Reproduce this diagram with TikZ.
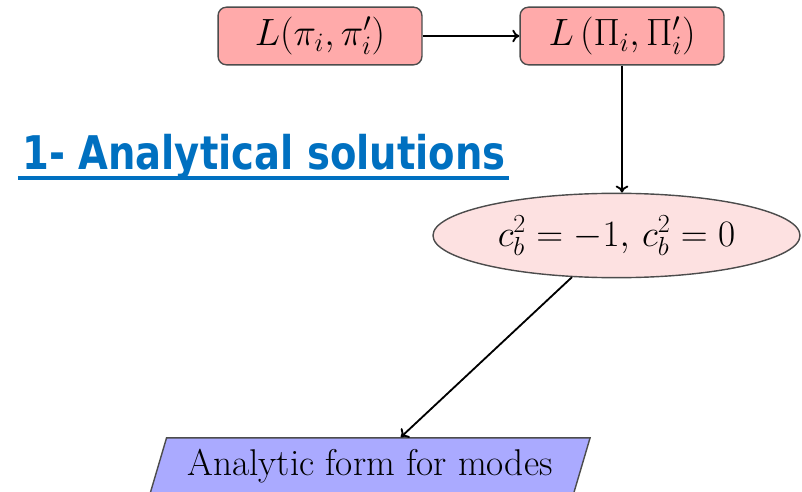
\RequirePackage{fix-cm}
\documentclass[tikz,border=0pt]{standalone}
\usepackage{fontspec}
\usetikzlibrary{shapes.geometric,arrows.meta}
\newfontfamily\headfont{DejaVu Sans}[FakeStretch=0.83]
\definecolor{headblue}{HTML}{0070C0}
\definecolor{boxpink}{HTML}{FFAAAA}
\definecolor{ellpink}{HTML}{FDE1E1}
\definecolor{modeblue}{HTML}{AAAAFF}

\tikzset{
  lagbox/.style={draw=black!70, fill=boxpink, rounded corners=6pt, line width=1pt,
    minimum width=145pt, minimum height=41pt, font=\fontsize{27}{31}\selectfont},
  speedell/.style={draw=black!70, fill=ellpink, ellipse, line width=1pt,
    minimum width=261pt, minimum height=60pt, font=\fontsize{26.5}{30}\selectfont},
  modepar/.style={draw=black!70, fill=modeblue, trapezium, trapezium left angle=69,
    trapezium right angle=111, trapezium stretches body, line width=1pt,
    minimum width=313pt, minimum height=40pt, font=\fontsize{26.5}{30}\selectfont},
  flow/.style={-{To[length=5pt,width=9pt]}, line width=1.3pt}
}

\begin{document}
\begin{tikzpicture}[x=0.025cm, y=-0.025cm]
  \useasboundingbox (0,0) rectangle (802,492);
  \clip (0,0) rectangle (802,492);

  \node[lagbox] (lsmall) at (320,36) {$L(\pi_i, \pi'_i)$};
  \node[lagbox] (lbig) at (622,36) {$L\left(\Pi_i, \Pi'_i\right)$};
  \node[speedell] (speed) at (616.5,235.5) {$c_b^2 = -1,\, c_b^2 = 0$};
  \node[modepar] (modes) at (370,466) {Analytic form for modes};

  \node[anchor=base west, inner sep=0pt, text=headblue,
    font=\headfont\bfseries\fontsize{33}{40}\selectfont] (head) at (22,170)
    {1- Analytical solutions};
  \draw[headblue, line width=2.8pt]
    ([xshift=-3pt, yshift=-6pt]head.base west) -- ([xshift=2pt, yshift=-6pt]head.base east);

  \draw[flow] (lsmall) -- (lbig);
  \draw[flow] (lbig) -- (lbig |- speed.north);
  \draw[flow] (speed) -- (modes);
\end{tikzpicture}
\end{document}
